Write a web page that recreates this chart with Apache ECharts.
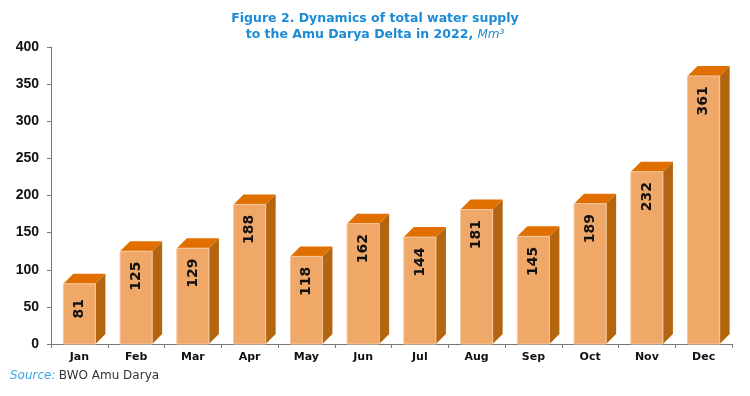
<!DOCTYPE html>
<html>
<head>
<meta charset="utf-8">
<script src="https://cdn.jsdelivr.net/npm/echarts@6/dist/echarts.min.js"></script>
<style>
html, body { margin: 0; padding: 0; background: #fff; }
#chart { width: 750px; height: 396px; }
</style>
</head>
<body>
<div id="chart"></div>
<script>
var months = ['Jan', 'Feb', 'Mar', 'Apr', 'May', 'Jun', 'Jul', 'Aug', 'Sep', 'Oct', 'Nov', 'Dec'];
var supply = [81, 125, 129, 188, 118, 162, 144, 181, 145, 189, 232, 361];
var yTicks = [0, 50, 100, 150, 200, 250, 300, 350, 400];

var chart = echarts.init(document.getElementById('chart'));

// 3d-looking bar: front face, right side, top
function renderBar(params, api) {
  var idx = api.value(0);
  var top = api.coord([idx, api.value(1)]);
  var base = api.coord([idx, 0]);
  var band = api.size([1, 0])[0];
  var w = band * 0.565;
  var d = 10;
  var x0 = top[0] - w / 2, x1 = top[0] + w / 2;
  var y0 = top[1], y1 = base[1];
  return {
    type: 'group',
    children: [
      {
        type: 'polygon',
        shape: { points: [[x1, y0], [x1 + d, y0 - d], [x1 + d, y1 - d], [x1, y1]] },
        style: { fill: '#B4650F' }
      },
      {
        type: 'polygon',
        shape: { points: [[x0, y0], [x0 + d, y0 - d], [x1 + d, y0 - d], [x1, y0]] },
        style: { fill: '#E06F00' }
      },
      {
        type: 'rect',
        shape: { x: x0, y: y0, width: w, height: y1 - y0 },
        style: { fill: '#F0A868', stroke: '#F6C9A0', lineWidth: 1 }
      },
      {
        type: 'text',
        x: top[0],
        y: y0 + 25,
        rotation: Math.PI / 2,
        style: {
          text: String(api.value(1)),
          align: 'center',
          verticalAlign: 'middle',
          fill: '#111',
          font: 'bold 14px "DejaVu Sans", sans-serif'
        }
      }
    ]
  };
}

chart.setOption({
  animation: false,
  title: {
    text: 'Figure 2. Dynamics of total water supply\nto the Amu Darya Delta in 2022, {i|Mm³}',
    left: 370,
    top: 6,
    textAlign: 'center',
    textStyle: {
      color: '#1B8BD6',
      fontSize: 12.5,
      fontWeight: 'bold',
      fontFamily: '"DejaVu Sans", sans-serif',
      lineHeight: 16,
      rich: {
        i: { color: '#1B8BD6', fontSize: 12, fontStyle: 'italic', fontWeight: 'normal', fontFamily: '"DejaVu Sans", sans-serif' }
      }
    }
  },
  grid: { left: 51, right: 18, top: 47, bottom: 52 },
  xAxis: {
    type: 'category',
    data: months,
    axisLine: { lineStyle: { color: '#777', width: 1 } },
    axisTick: { show: true, length: 4, lineStyle: { color: '#777' } },
    axisLabel: { color: '#111', fontWeight: 'bold', fontSize: 11, fontFamily: '"DejaVu Sans", sans-serif', margin: 8 }
  },
  yAxis: {
    type: 'value',
    min: yTicks[0],
    max: yTicks[yTicks.length - 1],
    interval: 50,
    axisLine: { show: true, lineStyle: { color: '#777', width: 1 } },
    axisTick: { show: true, length: 4, lineStyle: { color: '#777' } },
    splitLine: { show: false },
    axisLabel: { color: '#111', fontWeight: 'bold', fontSize: 14, fontFamily: '"Liberation Sans", Arial, sans-serif', margin: 12 }
  },
  graphic: [
    {
      type: 'text',
      left: 10,
      top: 370,
      style: {
        text: '{a|Source:} {b|BWO Amu Darya}',
        rich: {
          a: { fill: '#39A9E8', fontStyle: 'italic', fontSize: 12, fontFamily: '"DejaVu Sans", sans-serif' },
          b: { fill: '#333', fontSize: 12, fontFamily: '"DejaVu Sans", sans-serif' }
        }
      }
    }
  ],
  series: [
    {
      type: 'custom',
      renderItem: renderBar,
      encode: { x: 0, y: 1 },
      data: supply.map(function (v, i) { return [i, v]; })
    }
  ]
});
</script>
</body>
</html>
